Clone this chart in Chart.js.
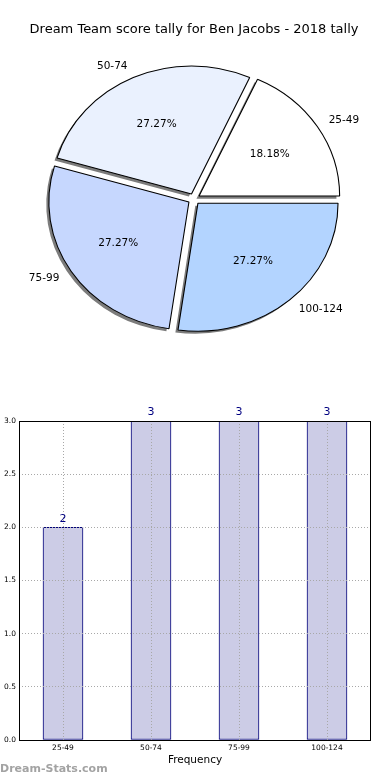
<!DOCTYPE html>
<html>
<head>
<meta charset="utf-8">
<script src="https://cdn.jsdelivr.net/npm/chart.js@4.4.1/dist/chart.umd.min.js"></script>
<style>
  html, body { margin: 0; padding: 0; background: #fff; }
  body { width: 390px; height: 780px; position: relative; overflow: hidden; font-family: 'DejaVu Sans', sans-serif; }
  #pieChart { position: absolute; left: 0; top: 0; }
  #barChart { position: absolute; left: 0; top: 400px; }
  .watermark { position: absolute; left: 0; top: 762px; font-size: 11px; font-weight: bold; color: #a3a3a3; }
</style>
</head>
<body>
<canvas id="pieChart" width="390" height="380"></canvas>
<canvas id="barChart" width="390" height="367"></canvas>
<div class="watermark">Dream-Stats.com</div>
<script>
// data
const chartTitle  = 'Dream Team score tally for Ben Jacobs - 2018 tally';
const categories  = ['25-49', '50-74', '75-99', '100-124'];
const counts      = [2, 3, 3, 3];
const sliceColors = ['#ffffff', '#eaf1fe', '#c6d7fe', '#b3d4ff'];
const xAxisTitle  = 'Frequency';

Chart.defaults.font.family = "'DejaVu Sans', sans-serif";
Chart.defaults.color = '#000';

// pie is a bit wider than tall in the original
const STRETCH = 1.094;
const EXPLODE = 22;   // arcs get moved out by a quarter of this

const total = counts.reduce((a, b) => a + b, 0);

// chart.js goes clockwise, the original goes counter-clockwise from 3 o'clock
const pieLabels = categories.slice().reverse();
const pieValues = counts.slice().reverse();
const pieColors = sliceColors.slice().reverse();

const pieDecor = {
    id: 'pieDecor',
    beforeDatasetsDraw(chart) {
        const ctx = chart.ctx;
        const arcs = chart.getDatasetMeta(0).data;
        const { x, y } = arcs[0];
        ctx.save();
        ctx.translate(x, y); ctx.scale(STRETCH, 1); ctx.translate(-x, -y);
        // shadow, down and to the left
        ctx.fillStyle = '#7c7c7c';
        arcs.forEach(a => {
            const mid = (a.startAngle + a.endAngle) / 2;
            const t = (a.options.offset || 0) / 4;
            const sx = x + Math.cos(mid) * t - 2.4;
            const sy = y + Math.sin(mid) * t + 2.6;
            ctx.beginPath();
            ctx.moveTo(sx, sy);
            ctx.arc(sx, sy, a.outerRadius, a.startAngle, a.endAngle);
            ctx.closePath();
            ctx.fill();
        });
    },
    afterDatasetsDraw(chart) {
        const ctx = chart.ctx;
        ctx.restore();
        const arcs = chart.getDatasetMeta(0).data;
        ctx.save();
        ctx.font = "10.5px 'DejaVu Sans', sans-serif";
        ctx.fillStyle = '#000';
        ctx.textBaseline = 'middle';
        arcs.forEach((a, i) => {
            const mid = (a.startAngle + a.endAngle) / 2;
            const t = (a.options.offset || 0) / 4;
            const c = Math.cos(mid), s = Math.sin(mid);
            const r = a.outerRadius;
            // category name
            let d = 1.1 * r + t;
            ctx.textAlign = c > 0 ? 'left' : 'right';
            ctx.fillText(chart.data.labels[i], a.x + STRETCH * d * c, a.y + d * s);
            // percentage
            d = 0.6 * r + t;
            ctx.textAlign = 'center';
            const pct = (pieValues[i] / total * 100).toFixed(2) + '%';
            ctx.fillText(pct, a.x + STRETCH * d * c, a.y + d * s);
        });
        ctx.restore();
    }
};

new Chart(document.getElementById('pieChart'), {
    type: 'pie',
    data: {
        labels: pieLabels,
        datasets: [{
            data: pieValues,
            backgroundColor: pieColors,
            borderColor: '#000',
            borderWidth: 1,
            offset: EXPLODE,
            hoverOffset: 0,
            radius: 128
        }]
    },
    options: {
        responsive: false,
        animation: false,
        rotation: 90,
        radius: 128,
        layout: { padding: { top: 0, right: 2, bottom: 19.6, left: 0 } },
        plugins: {
            legend: { display: false },
            tooltip: { enabled: false },
            title: {
                display: true, text: chartTitle, color: '#000',
                font: { size: 13, weight: 'normal' },
                padding: { top: 22, bottom: 0 }
            }
        }
    },
    plugins: [pieDecor]
});

const barDecor = {
    id: 'barDecor',
    afterDraw(chart) {
        const ctx = chart.ctx;
        const { left, top, right, bottom } = chart.chartArea;
        ctx.save();
        ctx.strokeStyle = '#000';
        ctx.lineWidth = 1;
        ctx.strokeRect(left + 0.5, top + 0.5, right - left - 1, bottom - top);
        // value above each bar
        ctx.font = "11px 'DejaVu Sans', sans-serif";
        ctx.fillStyle = '#000080';
        ctx.textAlign = 'center';
        ctx.textBaseline = 'bottom';
        chart.getDatasetMeta(0).data.forEach((bar, i) => {
            ctx.fillText(String(counts[i]), bar.x, bar.y - 3);
        });
        ctx.restore();
    }
};

const gridOpts = { color: '#a8a8a8', lineWidth: 1, z: 1, drawTicks: false };

new Chart(document.getElementById('barChart'), {
    type: 'bar',
    data: {
        labels: categories,
        datasets: [{
            data: counts,
            backgroundColor: '#ccccE6',
            borderColor: '#00007a',
            borderWidth: 1,
            borderSkipped: false,
            barThickness: 40
        }]
    },
    options: {
        responsive: false,
        animation: false,
        layout: { padding: { top: 21, right: 19, bottom: 0, left: 0 } },
        plugins: { legend: { display: false }, tooltip: { enabled: false } },
        scales: {
            x: {
                grid: { ...gridOpts, offset: false },
                border: { display: false, dash: [1, 2] },
                ticks: { font: { size: 7.5 }, color: '#000', padding: 4 },
                title: { display: true, text: xAxisTitle, color: '#000', font: { size: 10.5 }, padding: 0 },
                afterFit: s => { s.height = 27; }
            },
            y: {
                min: 0, max: 3,
                grid: gridOpts,
                border: { display: false, dash: [1, 2] },
                ticks: { stepSize: 0.5, callback: v => v.toFixed(1), font: { size: 7.5 }, color: '#000', padding: 3 },
                afterFit: s => { s.width = 19; }
            }
        }
    },
    plugins: [barDecor]
});
</script>
</body>
</html>
